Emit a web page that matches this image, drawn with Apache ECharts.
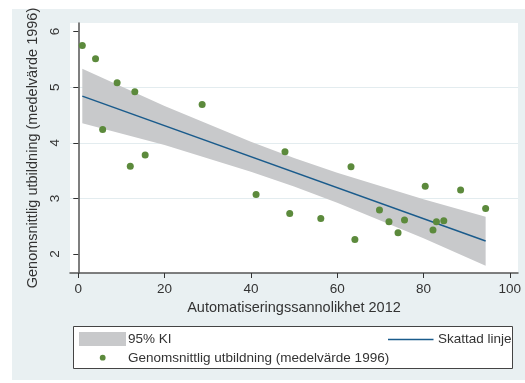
<!DOCTYPE html>
<html>
<head>
<meta charset="utf-8">
<script src="https://cdn.jsdelivr.net/npm/echarts@6/dist/echarts.min.js"></script>
<style>
html,body{margin:0;padding:0;background:#fff;}
#c{width:525px;height:383px;}
</style>
</head>
<body>
<div id="c"></div>
<script>
// Data
const pointX = [0.93, 4.0, 9.0, 13.1, 5.65, 28.7, 12.05, 15.5, 47.9, 41.2, 49.0, 56.2, 63.2, 64.1, 69.8, 72.0, 74.1, 75.6, 80.4, 82.2, 83.0, 84.7, 88.6, 94.4];
const pointY = [5.75, 5.51, 5.08, 4.92, 4.24, 4.69, 3.58, 3.78, 3.84, 3.07, 2.73, 2.64, 3.57, 2.26, 2.79, 2.58, 2.38, 2.61, 3.22, 2.43, 2.58, 2.60, 3.15, 2.82];
const fitX = [0.93, 94.4];
const fitY = [4.84, 2.233];
const ciX = [0.93, 20, 40, 50, 60, 80, 94.4];
const ciUpper = [5.33, 4.66, 4.02, 3.725, 3.46, 2.985, 2.67];
const ciLower = [4.35, 3.96, 3.48, 3.215, 2.92, 2.285, 1.79];
const xTicks = [0, 20, 40, 60, 80, 100];
const yTicks = [2, 3, 4, 5, 6];
const xTitle = 'Automatiseringssannolikhet 2012';
const yTitle = 'Genomsnittlig utbildning (medelvärde 1996)';
const legendNames = ['95% KI', 'Skattad linje', 'Genomsnittlig utbildning (medelvärde 1996)'];

const FONT = "'Liberation Sans', Arial, sans-serif";
const TXT = '#333333';
const BAND = '#c8c9cb';
const LINE = '#1a5b8c';
const DOT = '#5c8a3c';

const chart = echarts.init(document.getElementById('c'), null, {renderer: 'canvas'});

const scatterData = pointX.map((x, i) => [x, pointY[i]]);
const fitData = fitX.map((x, i) => [x, fitY[i]]);
const ciData = ciX.map((x, i) => [x, ciLower[i], ciUpper[i]]);

chart.setOption({
  animation: false,
  textStyle: {fontFamily: FONT},
  graphic: [
    {type: 'rect', z: -100, silent: true, shape: {x: 12, y: 9, width: 513, height: 371}, style: {fill: '#e9f0f2'}},
    {type: 'rect', z: 100, shape: {x: 73.5, y: 326.5, width: 439, height: 42}, style: {fill: '#ffffff', stroke: '#444', lineWidth: 1}},
    {type: 'rect', z: 101, shape: {x: 79, y: 332, width: 47, height: 14}, style: {fill: BAND}},
    {type: 'text', z: 101, x: 128, y: 339.5, style: {text: legendNames[0], font: "13.5px " + FONT, fill: TXT, verticalAlign: 'middle'}},
    {type: 'line', z: 101, shape: {x1: 388, y1: 339.5, x2: 433.5, y2: 339.5}, style: {stroke: LINE, lineWidth: 1.5}},
    {type: 'text', z: 101, x: 438, y: 339.5, style: {text: legendNames[1], font: "13.5px " + FONT, fill: TXT, verticalAlign: 'middle'}},
    {type: 'circle', z: 101, shape: {cx: 102.7, cy: 357.7, r: 2.9}, style: {fill: DOT}},
    {type: 'text', z: 101, x: 128, y: 358, style: {text: legendNames[2], font: "13.5px " + FONT, fill: TXT, verticalAlign: 'middle'}}
  ],
  grid: {left: 70, right: 7, top: 23, bottom: 110, show: true, backgroundColor: '#ffffff', borderWidth: 0},
  xAxis: {
    type: 'value', min: -1.92, max: 101.9,
    name: xTitle, nameLocation: 'middle', nameGap: 26,
    nameTextStyle: {fontSize: 14.5, color: TXT, fontFamily: FONT},
    axisLine: {show: true, lineStyle: {color: '#555', width: 1.5}},
    axisTick: {show: true, length: 5, customValues: xTicks, lineStyle: {color: '#333'}},
    axisLabel: {customValues: xTicks, fontSize: 13.5, color: TXT, margin: 9, fontFamily: FONT},
    splitLine: {show: false}
  },
  yAxis: {
    type: 'value', min: 1.658, max: 6.155,
    name: yTitle, nameLocation: 'middle', nameGap: 25, nameRotate: 90,
    nameTextStyle: {fontSize: 14.5, color: TXT, fontFamily: FONT},
    axisLine: {show: true, lineStyle: {color: '#555', width: 1.5}},
    axisTick: {show: true, length: 5, customValues: yTicks, lineStyle: {color: '#333'}},
    axisLabel: {customValues: yTicks, fontSize: 13.5, color: TXT, margin: 8, rotate: 90, fontFamily: FONT},
    splitLine: {show: true, showMinLine: false, showMaxLine: false, lineStyle: {color: '#e3ecef', width: 1.2}}
  },
  series: [
    {
      type: 'custom', name: legendNames[0], z: 1, silent: true,
      data: ciData, encode: {x: 0, y: [1, 2]},
      renderItem: function (params, api) {
        if (params.dataIndex !== 0) return null;
        const pts = [];
        for (let i = 0; i < ciX.length; i++) pts.push(api.coord([ciX[i], ciUpper[i]]));
        for (let i = ciX.length - 1; i >= 0; i--) pts.push(api.coord([ciX[i], ciLower[i]]));
        return {type: 'polygon', shape: {points: pts}, style: {fill: BAND}};
      }
    },
    {
      type: 'line', name: legendNames[1], z: 2, silent: true,
      data: fitData, symbol: 'none',
      lineStyle: {color: LINE, width: 1.5}
    },
    {
      type: 'scatter', name: legendNames[2], z: 3, silent: true,
      data: scatterData, symbolSize: 7,
      itemStyle: {color: DOT, opacity: 1}
    }
  ]
});
</script>
</body>
</html>
